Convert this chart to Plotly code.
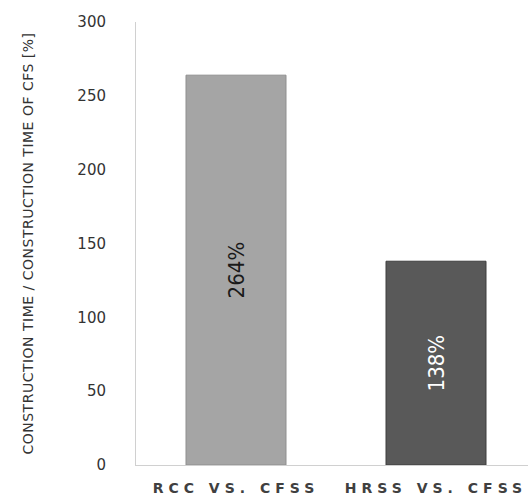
import plotly.graph_objects as go

categories = ["RCC VS. CFSS", "HRSS VS. CFSS"]
values = [264, 138]
bar_colors = ["#a5a5a5", "#595959"]
border_colors = ["#8f8f8f", "#3f3f3f"]
label_colors = ["#1a1a1a", "#ffffff"]
y_ticks = [0, 50, 100, 150, 200, 250, 300]
y_title = "CONSTRUCTION TIME / CONSTRUCTION TIME OF CFS [%]"


def spaced(text, px):
    return f'<span style="letter-spacing:{px}px">{text}</span>'


fig = go.Figure(
    go.Bar(
        x=[0, 1],
        y=values,
        width=0.5,
        marker=dict(color=bar_colors, line=dict(color=border_colors, width=1)),
        text=[f"{v}%" for v in values],
        textposition="inside",
        insidetextanchor="middle",
        textangle=-90,
        textfont=dict(family="DejaVu Sans Condensed", size=22, color=label_colors),
        hoverinfo="skip",
    )
)

fig.update_layout(
    width=528,
    height=497,
    margin=dict(l=136, r=0, t=22, b=32),
    paper_bgcolor="white",
    plot_bgcolor="white",
    showlegend=False,
    font=dict(family="DejaVu Sans", color="#333333"),
)

fig.update_xaxes(
    range=[-0.5, 1.46],
    tickvals=[0, 1],
    ticktext=[spaced(c, 5) for c in categories],
    tickfont=dict(family="DejaVu Sans", size=14, color="#404040", weight="bold"),
    ticklabelstandoff=10,
    showline=True,
    linecolor="#d0d0d0",
    linewidth=1,
    ticks="",
    showgrid=False,
    zeroline=False,
)

fig.update_yaxes(
    range=[0, 300],
    tickvals=y_ticks,
    tickfont=dict(family="DejaVu Sans", size=15, color="#333333"),
    ticklabelstandoff=26,
    showline=True,
    linecolor="#d0d0d0",
    linewidth=1,
    ticks="",
    showgrid=False,
    zeroline=False,
    title=dict(
        text=spaced(y_title, 0.5),
        font=dict(family="DejaVu Sans", size=14, color="#333333"),
        standoff=40,
    ),
)

fig.write_html("out.html")
